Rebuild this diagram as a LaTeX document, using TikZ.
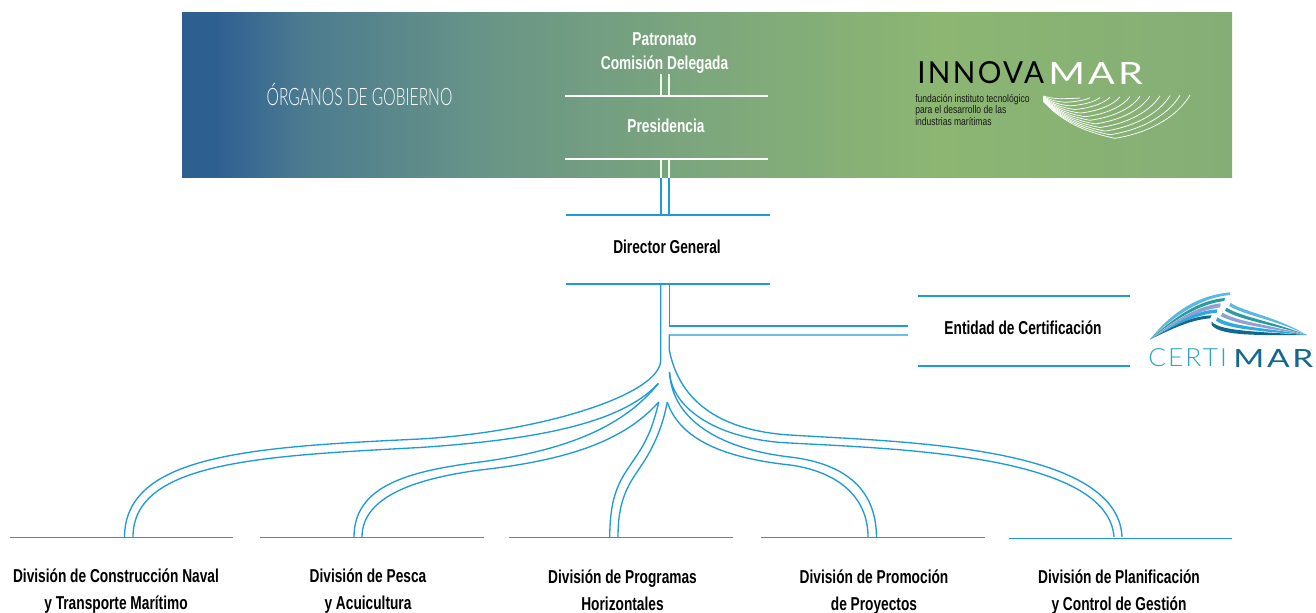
\documentclass[tikz,border=0pt]{standalone}
\usepackage{fontspec}
\usepackage{graphicx}
\setmainfont{Liberation Sans}
\newfontfamily\din[FakeStretch=0.735]{Liberation Sans}
\newfontfamily\dinsmall[FakeStretch=0.78]{Liberation Sans}
\newfontfamily\dinlight[FakeStretch=0.65]{Lato Light}
\newfontfamily\logofont[LetterSpace=8]{Lato}
\newfontfamily\logolight[LetterSpace=8]{Lato Light}
\definecolor{cblue}{HTML}{1E9AD6}
\definecolor{c0}{HTML}{2E5F91}
\definecolor{c1}{HTML}{4D7C90}
\definecolor{c2}{HTML}{6A9686}
\definecolor{c3}{HTML}{7DA77C}
\definecolor{c4}{HTML}{8CB672}
\definecolor{c5}{HTML}{84AE76}
\definecolor{wa}{RGB}{91,184,222}
\definecolor{wb}{RGB}{42,156,160}
\definecolor{wc}{RGB}{143,160,213}
\definecolor{wd}{RGB}{47,168,224}
\definecolor{we}{RGB}{18,104,143}
\definecolor{wf}{RGB}{42,166,190}
\pgfdeclarehorizontalshading{bandshade}{100bp}{
 color(0bp)=(c0); color(25bp)=(c0); color(26.5bp)=(c0); color(31bp)=(c1); color(40bp)=(c2); color(50bp)=(c3); color(61bp)=(c4); color(75bp)=(c5); color(100bp)=(c5)}
\tikzset{
 lbl/.style={font=\din\bfseries\fontsize{14}{20.25}\selectfont,align=center,inner sep=0pt},
 wlbl/.style={lbl,text=white},
 rule/.style={draw=cblue,line width=1pt},
 wrule/.style={draw=white,line width=1pt},
 link/.style={draw=cblue,line width=1pt},
 wlink/.style={draw=white!92!green,line width=1pt},
 thin white/.style={draw=white,line width=0.55pt}
}
\begin{document}
\begin{tikzpicture}[x=0.75pt,y=-0.75pt]
\useasboundingbox (0,0) rectangle (1316,613);
\shade[shading=bandshade] (182,12.5) rectangle (1232,177.7);
\node[inner sep=0pt,text=white,font=\dinlight\fontsize{18}{20}\selectfont] (title) at (359.5,95) {ÓRGANOS DE GOBIERNO};
% labels
\node[wlbl] (org) at (664.5,53.5) {Patronato\\[-2.25pt]Comisión Delegada};
\node[wlbl] (pres) at (666,125.5) {Presidencia};
\node[lbl] (dir) at (667,247) {Director General};
\node[lbl] (ent) at (1023,328) {Entidad de Certificación};
\node[lbl] (d1) at (116,591.5) {División de Construcción Naval\\y Transporte Marítimo};
\node[lbl] (d2) at (368,591.5) {División de Pesca\\y Acuicultura};
\node[lbl] (d3) at (622.5,590.5) {División de Programas\\Horizontales};
\node[lbl] (d4) at (874,592) {División de Promoción\\de Proyectos};
\node[lbl] (d5) at (1119,592) {División de Planificación\\y Control de Gestión};
% rule end points
\foreach \n/\a/\b/\y in {pa/565/768/96,pb/565/768/159,da/566/770/215,db/566/770/284,ea/918/1130/296,eb/918/1130/366,
 ra/10/233/537.5,rb/260/484/537.5,rc/509/733/537.5,rd/761/985/537.5,re/1009/1232/538.5}{
 \coordinate (\n l) at (\a,\y); \coordinate (\n r) at (\b,\y);}
\draw[wrule] (pal)--(par); \draw[wrule] (pbl)--(pbr);
\foreach \n in {da,db,ea,eb,ra,rb,rc,rd,re}{\draw[rule] (\n l)--(\n r);}
% upper double links
\coordinate (p1) at (661,74); \coordinate (p2) at (669,74);
\coordinate (q1) at (661,96); \coordinate (q2) at (669,96);
\coordinate (s1) at (661,159); \coordinate (s2) at (669,159);
\coordinate (t1) at (661,178); \coordinate (t2) at (669,178);
\coordinate (u1) at (661,215); \coordinate (u2) at (669,215);
\draw[wlink] (p1)--(q1) (p2)--(q2) (s1)--(t1) (s2)--(t2);
\draw[link] (t1)--(u1) (t2)--(u2);
% tips
\coordinate (v1) at (660.7,284); \coordinate (v2) at (669.3,284);
\coordinate (k1) at (908,326); \coordinate (k2) at (908,335);
\coordinate (tA) at (658.3,383.5); \coordinate (tB) at (658.7,402);
\coordinate (tC) at (667.3,402); \coordinate (tD) at (669.5,372);
% branch 1 and trunk
\draw[link] (v1)--(660.7,360) .. controls (660.7,395) and (540,432) .. (420,439) .. controls (250,447) and (125,455) .. (124.5,537);
\draw[link] (tA) .. controls (620,425) and (530,440) .. (420,447.5) .. controls (260,456) and (133,462) .. (133,537);
% branch 2
\draw[link] (tA) .. controls (625,425) and (570,450) .. (480,462) .. controls (410,471) and (354,485) .. (354,537);
\draw[link] (tB) .. controls (625,440) and (570,460) .. (480,470) .. controls (420,478) and (362,495) .. (362,537);
% branch 3
\draw[link] (tB) .. controls (650,440) and (640,450) .. (627,470) .. controls (615,488) and (610,505) .. (609.7,537);
\draw[link] (tC) .. controls (660,440) and (645,460) .. (635,475) .. controls (623,493) and (618,510) .. (618,537);
% branch 4
\draw[link] (tD) .. controls (672,420) and (720,449) .. (790,457) .. controls (840,463) and (876,485) .. (876.5,537);
\draw[link] (tC) .. controls (680,440) and (725,458) .. (790,465) .. controls (835,471) and (868,495) .. (868,537);
% branch 5 and side
\draw[link] (v2)--(669.3,326)--(k1);
\draw[link] (k2)--(669.3,335)--(669.3,350) .. controls (680,405) and (725,431) .. (790,435) .. controls (900,442) and (1118,445) .. (1122,537);
\draw[link] (tD) .. controls (672,410) and (720,440) .. (790,443) .. controls (900,449) and (1108,455) .. (1114,537);
% innovamar logo
\node[inner sep=0pt,anchor=west] (inn) at (917,73) {\resizebox{95pt}{16.5pt}{\logofont INNOVA}};
\node[inner sep=0pt,anchor=west,text=white] (mar) at (1048,73) {\resizebox{71pt}{16.5pt}{\logofont MAR}};
\node[inner sep=0pt,anchor=north west,align=left,text=black!90,font=\dinsmall\fontsize{8.2}{8.6}\selectfont] (fund) at (915,94) {fundación instituto tecnológico\\para el desarrollo de las\\industrias marítimas};
\begin{scope}[shift={(880,40)},x=0.25pt,y=-0.25pt]
\foreach \i in {0,...,11}{
 \pgfmathsetmacro\t{\i/11}
 \pgfmathsetmacro\sy{168+\t*16}
 \pgfmathsetmacro\mx{540+\t*165}
 \pgfmathsetmacro\my{176+\t*119}
 \pgfmathsetmacro\ex{600+\t*330}
 \pgfmathsetmacro\ey{174-\t*9}
 \draw[thin white] (490,\sy) .. controls ({490+(\mx-490)*.3},{\sy+(\my-\sy)*.65}) and ({\mx-(\mx-490)*.3},{\my-\t*14}) .. (\mx,\my) .. controls ({\mx+(\ex-\mx)*.5},{\my-\t*18}) and ({\ex-(\ex-\mx)*.15},{\ey+(\my-\ey)*.45}) .. (\ex,\ey);
}
\end{scope}
% certimar logo
\begin{scope}[shift={(1130,280)},x=0.25pt,y=-0.25pt]
\coordinate (w) at (60,178);
\coordinate (z) at (530,165);
\fill[wa] (w) .. controls (130,90) and (210,45) .. (300,37) -- (300,45) .. controls (220,52) and (140,100) .. (w);
\fill[wb] (w) .. controls (140,105) and (210,60) .. (285,54) -- (283,63) .. controls (210,72) and (140,115) .. (w);
\fill[wc] (w) .. controls (140,118) and (200,78) .. (272,70) -- (270,82) .. controls (200,92) and (140,128) .. (w);
\fill[wd] (w) .. controls (140,130) and (190,92) .. (262,88) -- (260,98) .. controls (190,105) and (130,140) .. (w);
\fill[we] (w) .. controls (130,140) and (180,108) .. (245,106) -- (240,115) .. controls (180,120) and (130,145) .. (w);
\fill[wa] (300,68) .. controls (340,95) and (440,110) .. (z) .. controls (440,120) and (340,105) .. (298,78) -- cycle;
\fill[wb] (290,83) .. controls (330,110) and (430,125) .. (z) .. controls (430,135) and (330,120) .. (285,92) -- cycle;
\fill[wc] (278,98) .. controls (320,125) and (420,135) .. (z) .. controls (420,145) and (320,135) .. (272,108) -- cycle;
\fill[wd] (262,112) .. controls (300,140) and (420,145) .. (z) .. controls (420,155) and (295,150) .. (258,122) -- cycle;
\fill[we] (245,125) .. controls (270,155) and (400,155) .. (z) .. controls (400,165) and (270,170) .. (245,135) -- cycle;
\end{scope}
\node[inner sep=0pt,anchor=west,text=wf] (cer) at (1148,358) {\resizebox{59pt}{13.5pt}{\logolight CERTI}};
\node[inner sep=0pt,anchor=west,text=we] (cmar) at (1233,358) {\resizebox{60pt}{13.5pt}{\logofont MAR}};
\end{tikzpicture}
\end{document}
